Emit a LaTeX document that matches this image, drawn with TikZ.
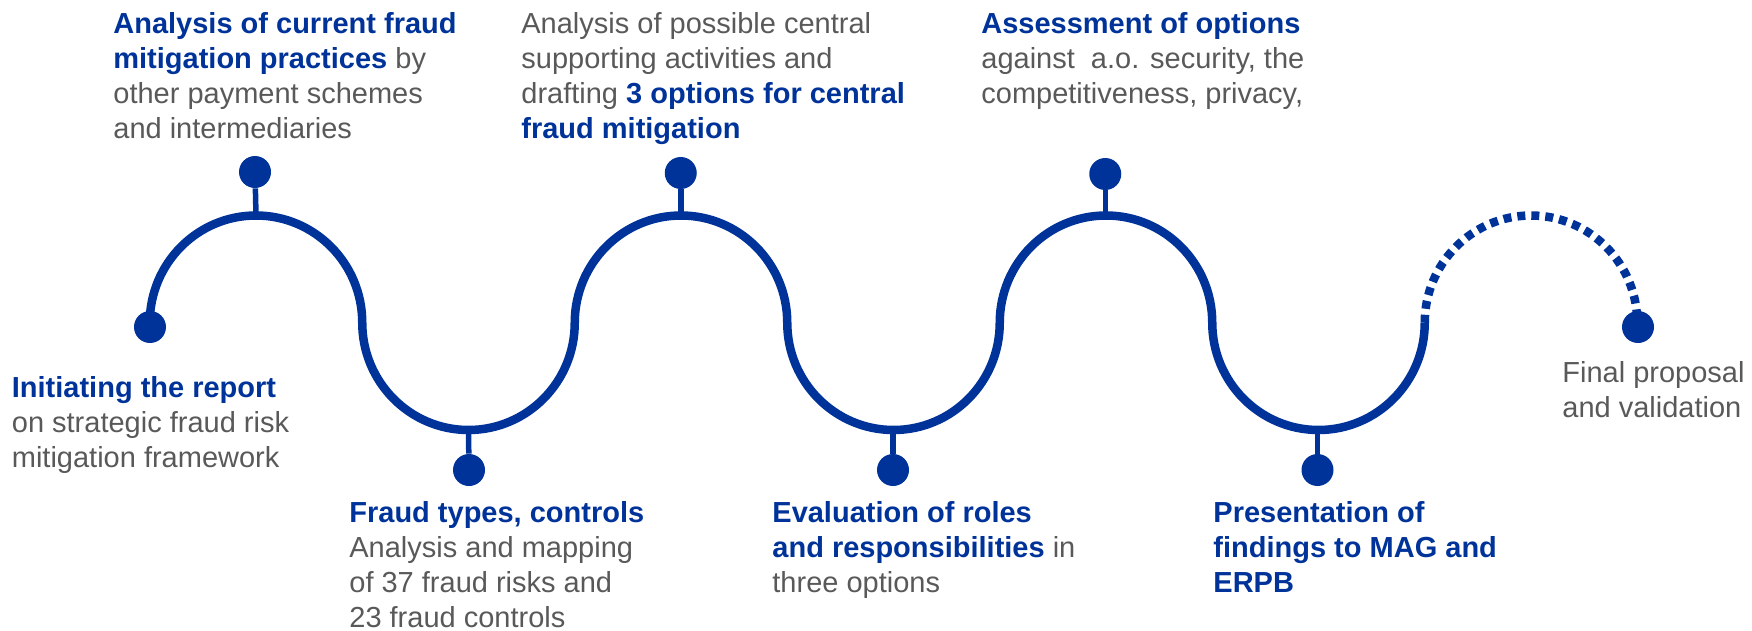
\documentclass[tikz,border=0pt]{standalone}
\usepackage{fontspec}
\setmainfont{Liberation Sans}
\usetikzlibrary{positioning}
\definecolor{ecbblue}{RGB}{0, 51, 153}
\definecolor{textgrey}{RGB}{89, 89, 89}
\newcommand{\stepkey}[1]{\textbf{\color{ecbblue}#1}}
\tikzset{
  wave/.style={line width=4.25pt, ecbblue},
  hump/.style={x radius=106.25, y radius=107.25},
  stopdot/.style={circle, fill=ecbblue, inner sep=0pt, minimum size=16pt},
  stem/.style={line width=2.75pt, ecbblue},
  steptext/.style={anchor=north west, inner sep=0pt, align=left, text=textgrey,
    font=\fontsize{14.5}{17.5}\selectfont},
}

\begin{document}
\begin{tikzpicture}[x=0.5pt, y=-0.5pt]
  \useasboundingbox (0,0) rectangle (1752,631);

  % The wave (solid part)
  \draw[wave] (149.75,322.75) coordinate (waveStart)
    arc[start angle=180, end angle=360, hump] % up
    arc[start angle=180, end angle=0, hump]   % down
    arc[start angle=180, end angle=360, hump]
    arc[start angle=180, end angle=0, hump]
    arc[start angle=180, end angle=360, hump]
    arc[start angle=180, end angle=0, hump] coordinate (waveOpen);
  % last hump still to come
  \draw[wave, dash pattern=on 4pt off 3pt] (waveOpen)
    arc[start angle=180, end angle=360, hump] coordinate (waveEnd);

  % Apex points of the humps
  \coordinate (apexA) at (256,215.5);
  \coordinate (apexB) at (468.5,430);
  \coordinate (apexC) at (680.75,215.5);
  \coordinate (apexD) at (893,430);
  \coordinate (apexE) at (1105.25,215.5);
  \coordinate (apexF) at (1317.5,430);

  % Stop dots
  \node[stopdot] (dotStart) at (150,327) {};
  \node[stopdot] (dotA) at (255,172) {};
  \node[stopdot] (dotB) at (469,470) {};
  \node[stopdot] (dotC) at (680.75,173) {};
  \node[stopdot] (dotD) at (893,470) {};
  \node[stopdot] (dotE) at (1105.25,174) {};
  \node[stopdot] (dotF) at (1317.5,470) {};
  \node[stopdot] (dotEnd) at (1638,327) {};

  \draw[stem] (dotA) -- (apexA);
  \draw[stem] (dotB) -- (apexB);
  \draw[stem] (dotC) -- (apexC);
  \draw[stem] (dotD) -- (apexD);
  \draw[stem] (dotE) -- (apexE);
  \draw[stem] (dotF) -- (apexF);

  % Texts above
  \node[steptext] (txtA) at (113,8.5)
    {\strut\stepkey{Analysis of current fraud}\\
     \stepkey{mitigation practices} by\\
     other payment schemes\\
     and intermediaries};
  \node[steptext] (txtC) at (521,8.5)
    {\strut Analysis of possible central\\
     supporting activities and\\
     drafting \stepkey{3 options for central}\\
     \stepkey{fraud mitigation}};
  \node[steptext] (txtE) at (981,8.5)
    {\strut\stepkey{Assessment of options}\\
     against~ a.o. security, the\\
     competitiveness, privacy,};

  % Texts below
  \node[steptext] (txtStart) at (11.5,372.5)
    {\strut\stepkey{Initiating the report}\\
     on strategic fraud risk\\
     mitigation framework};
  \node[steptext] (txtB) at (349,497.5)
    {\strut\stepkey{Fraud types, controls}\\
     Analysis and mapping\\
     of 37 fraud risks and\\
     23 fraud controls};
  \node[steptext] (txtD) at (772,497.5)
    {\strut\stepkey{Evaluation of roles}\\
     \stepkey{and responsibilities} in\\
     three options};
  \node[steptext] (txtF) at (1213,497.5)
    {\strut\stepkey{Presentation of}\\
     \stepkey{findings to MAG and}\\
     \stepkey{ERPB}};
  \node[steptext] (txtEnd) at (1562,357.5)
    {\strut Final proposal\\
     and validation};
\end{tikzpicture}
\end{document}
